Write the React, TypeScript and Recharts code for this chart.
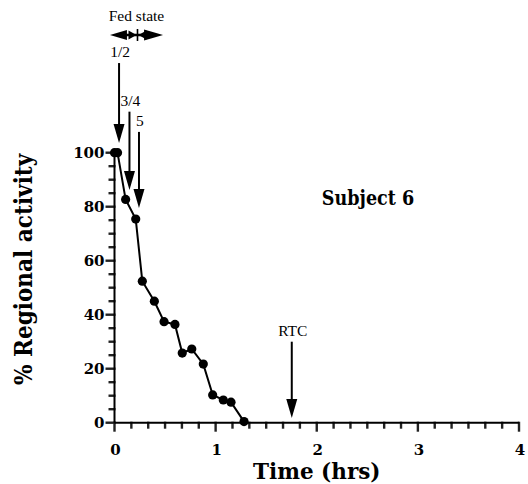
import React from 'react';
import { ComposedChart, Line, XAxis, YAxis, ReferenceLine, Customized } from 'recharts';

// ---- data ----
const times = [0, 0.03, 0.11, 0.21, 0.275, 0.394, 0.49, 0.598, 0.67, 0.764, 0.878, 0.971, 1.076, 1.152, 1.281];
const activity = [100, 100, 82.7, 75.4, 52.4, 45.0, 37.4, 36.4, 25.8, 27.3, 21.7, 10.3, 8.4, 7.6, 0.4];

const xMajorTicks = [0, 1, 2, 3, 4];
const yMajorTicks = [0, 20, 40, 60, 80, 100];

// event arrows (time in hrs, arrow top and tip in % units)
const arrowLabels = ['1/2', '3/4', '5', 'RTC'];
const arrowTimes = [0.045, 0.148, 0.242, 1.753];
const arrowTops = [133.2, 115.2, 107.7, 30.0];
const arrowTips = [103.6, 86.2, 79.5, 1.7];

// fed state bracket
const fedLabel = 'Fed state';
const fedStart = -0.045;
const fedEnd = 0.48;
const fedLevel = 143.6;

const subjectLabel = 'Subject 6';

const data = times.map((t, i) => ({ t, v: activity[i] }));
const xTicks = Array.from({ length: 25 }, (_, i) => i / 6); // minor every 10 min
const yTicks = Array.from({ length: 21 }, (_, i) => i * 5); // minor every 5 %

const serifBold = "'DejaVu Serif', serif";
const serifBoldCond = "'DejaVu Serif Condensed', 'DejaVu Serif', serif";
const annFont = "'Liberation Serif', 'Times New Roman', serif";
const tickColor = '#222';

const isXMajor = (v: number) => Math.abs(v - Math.round(v)) < 1e-6 && xMajorTicks.includes(Math.round(v));

const XTick = (props: any) => {
  const x = Number(props.x);
  const y = Number(props.y);
  const v = Number(props.payload.value);
  if (!isXMajor(v)) return <g />;
  return (
    <text x={x + 1} y={y + 32} textAnchor="middle" fontFamily={serifBold} fontWeight="bold" fontSize={15} fill="#000" stroke="none">
      {Math.round(v)}
    </text>
  );
};

const YTick = (props: any) => {
  const x = Number(props.x);
  const y = Number(props.y);
  const v = Number(props.payload.value);
  if (!yMajorTicks.includes(v)) return <g />;
  return (
    <text x={x - 10} y={y} dy="0.36em" textAnchor="end" fontFamily={serifBold} fontWeight="bold" fontSize={15} fill="#000" stroke="none">
      {v}
    </text>
  );
};

// tick marks, drawn at the scaled tick positions
const xTickMark = (major: boolean) => (p: any) => {
  const x = p.x1;
  const y = Math.max(p.y1, p.y2);
  return (
    <g>
      <line x1={x} x2={x} y1={y - 1} y2={y + (major ? 9 : 6)} stroke={tickColor} strokeWidth={2.4} />
    </g>
  );
};
const yTickMark = (major: boolean) => (p: any) => {
  const x = Math.min(p.x1, p.x2);
  const y = p.y1;
  return (
    <g>
      <line x1={x + 1} x2={x - (major ? 9 : 6)} y1={y} y2={y} stroke={tickColor} strokeWidth={2.4} />
    </g>
  );
};

const makeDownArrow = (label: string) => (p: any) => {
  const x = p.x1;
  const top = Math.min(p.y1, p.y2);
  const tip = Math.max(p.y1, p.y2);
  const headLen = 19;
  const half = 5.5;
  return (
    <g>
      <line x1={x} x2={x} y1={top} y2={tip - headLen + 3} stroke="#000" strokeWidth={2} />
      <polygon points={`${x - half},${tip - headLen} ${x + half},${tip - headLen} ${x},${tip}`} fill="#000" />
      <text x={x + 1} y={top - 6} textAnchor="middle" fontFamily={annFont} fontSize={15.5} fill="#000">
        {label}
      </text>
    </g>
  );
};

const FedShape = (p: any) => {
  const y = p.y1;
  const xl = Math.min(p.x1, p.x2);
  const xr = Math.max(p.x1, p.x2);
  const xm = (xl + xr) / 2 + 1;
  return (
    <g>
      <line x1={xl + 8} x2={xr - 8} y1={y} y2={y} stroke="#000" strokeWidth={2.4} />
      <polygon points={`${xl},${y} ${xl + 17},${y - 5} ${xl + 17},${y + 5}`} fill="#000" />
      <polygon points={`${xm - 1},${y} ${xm - 9},${y - 4.5} ${xm - 9},${y + 4.5}`} fill="#000" />
      <line x1={xm} x2={xm} y1={y - 6} y2={y + 6} stroke="#000" strokeWidth={1.6} />
      <polygon points={`${xm + 1},${y} ${xm + 9},${y - 4.5} ${xm + 9},${y + 4.5}`} fill="#000" />
      <polygon points={`${xr},${y} ${xr - 19},${y - 5.5} ${xr - 19},${y + 5.5}`} fill="#000" />
      <text x={(xl + xr) / 2} y={y - 14} textAnchor="middle" fontFamily={annFont} fontSize={15.5} fill="#000">
        {fedLabel}
      </text>
    </g>
  );
};

const Dot = (props: any) => {
  const { cx, cy, index } = props;
  if (cx == null || cy == null) return null;
  return <circle key={`d${index}`} cx={cx} cy={cy} r={4.6} fill="#000" />;
};

const SubjectText = () => (
  <text x={368} y={205} textAnchor="middle" fontFamily={serifBoldCond} fontWeight="bold" fontSize={19.5} fill="#000">
    {subjectLabel}
  </text>
);

export default function App() {
  return (
    <div style={{ position: 'absolute', left: 0, top: 0, background: '#fff' }}>
      <ComposedChart width={528} height={484} data={data} margin={{ top: 150, right: 9, bottom: 1.3, left: 54.5 }}>
        <XAxis
          dataKey="t"
          type="number"
          domain={[0, 4]}
          ticks={xTicks}
          interval={0}
          tickSize={0}
          tickMargin={0}
          tickLine={false}
          tick={<XTick />}
          height={60}
          axisLine={{ stroke: '#000', strokeWidth: 2 }}
          label={{
            content: (lp: any) => (
              <text x={lp.viewBox.x + lp.viewBox.width / 2} y={lp.viewBox.y + 56} textAnchor="middle"
                fontFamily={serifBold} fontWeight="bold" fontSize={21.5} fill="#000">
                Time (hrs)
              </text>
            ),
          }}
        />
        <YAxis
          type="number"
          domain={[0, 101]}
          ticks={yTicks}
          interval={0}
          tickSize={0}
          tickMargin={0}
          tickLine={false}
          tick={<YTick />}
          width={60}
          axisLine={{ stroke: '#000', strokeWidth: 2 }}
          label={{
            content: (lp: any) => {
              const cx = lp.viewBox.x + lp.viewBox.width - 91;
              const cy = lp.viewBox.y + lp.viewBox.height / 2 - 17;
              return (
                <text transform={`translate(${cx},${cy}) rotate(-90)`} textAnchor="middle" dy="0.36em"
                  fontFamily={serifBoldCond} fontWeight="bold" fontSize={24} fill="#000">
                  % Regional activity
                </text>
              );
            },
          }}
        />
        {xTicks.map((t) => (
          <ReferenceLine key={`xt${t}`} ifOverflow="visible"
            segment={[{ x: t, y: 1 }, { x: t, y: 0 }]}
            shape={xTickMark(isXMajor(t))} />
        ))}
        {yTicks.map((v) => (
          <ReferenceLine key={`yt${v}`} ifOverflow="visible"
            segment={[{ x: 0, y: v }, { x: 0.05, y: v }]}
            shape={yTickMark(yMajorTicks.includes(v))} />
        ))}
        {arrowLabels.map((lab, i) => (
          <ReferenceLine key={lab} ifOverflow="visible"
            segment={[{ x: arrowTimes[i], y: arrowTops[i] }, { x: arrowTimes[i], y: arrowTips[i] }]}
            shape={makeDownArrow(lab)} />
        ))}
        <ReferenceLine ifOverflow="visible"
          segment={[{ x: fedStart, y: fedLevel }, { x: fedEnd, y: fedLevel }]}
          shape={FedShape} />
        <Line type="linear" dataKey="v" stroke="#000" strokeWidth={2} dot={<Dot />} activeDot={false} isAnimationActive={false} />
        <Customized component={SubjectText} />
      </ComposedChart>
    </div>
  );
}
